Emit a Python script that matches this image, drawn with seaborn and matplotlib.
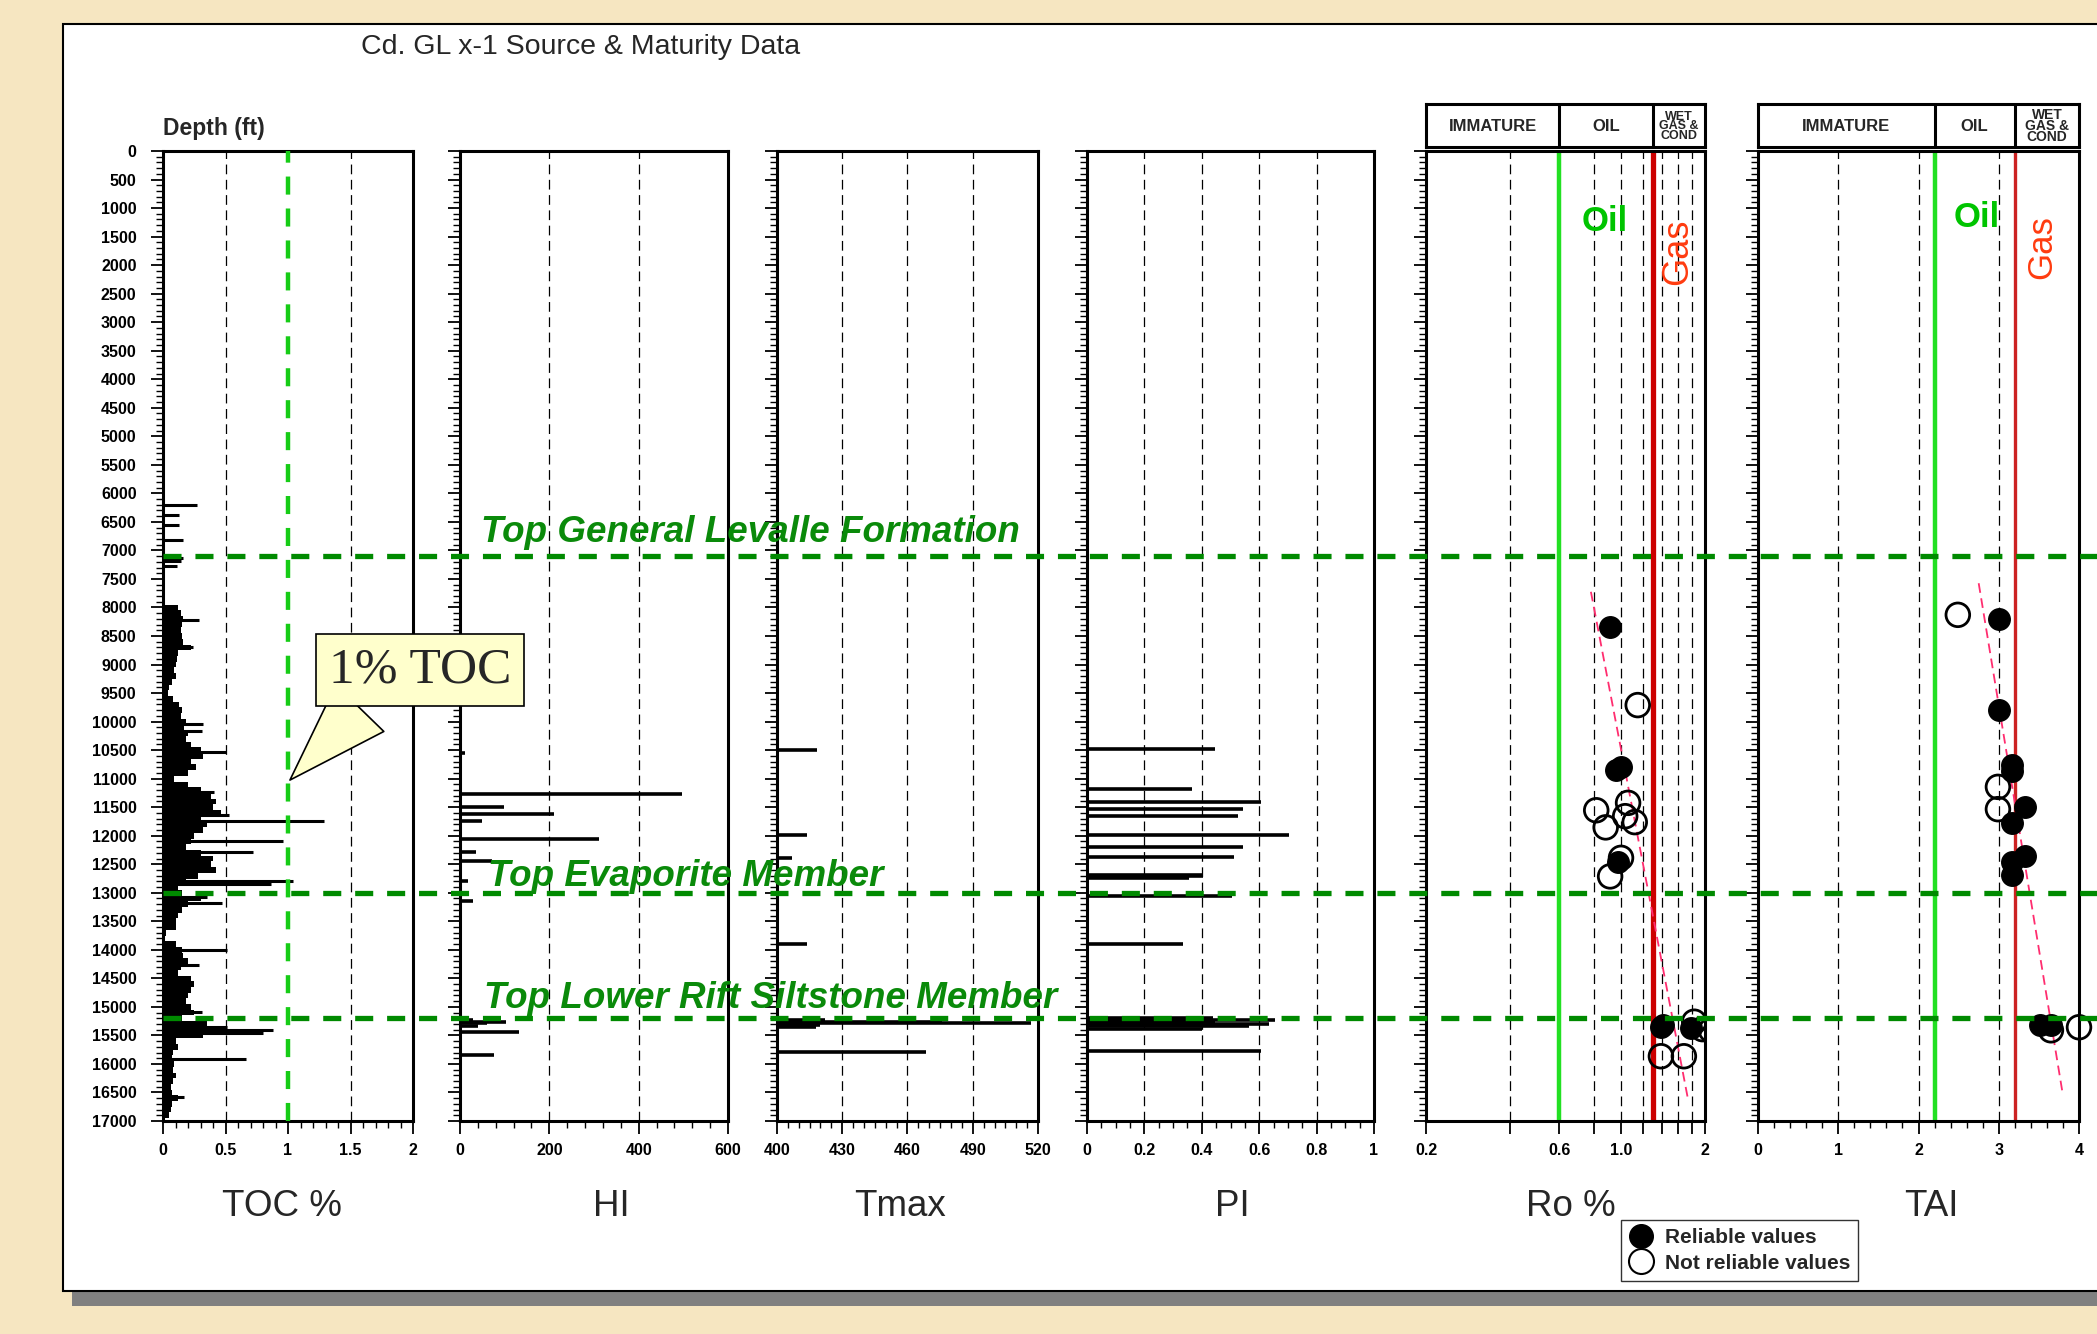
import numpy as np
import pandas as pd
import matplotlib
matplotlib.use('Agg')
import matplotlib.pyplot as plt
import matplotlib.ticker as mticker
import matplotlib.transforms as mtrans
from matplotlib.patches import Rectangle
from matplotlib.lines import Line2D
import seaborn as sns

sns.set_style('ticks')
plt.rcParams['font.family'] = ['Liberation Sans', 'DejaVu Sans']
plt.rcParams['lines.scale_dashes'] = False

W, H, DPI = 2097, 1334, 100

# ---------------- data ----------------
tops_depth = [7100, 13000, 15200]
tops_name = ['Top General Levalle Formation', 'Top Evaporite Member',
             'Top Lower Rift Siltstone Member']

depth_ticks = [0, 500, 1000, 1500, 2000, 2500, 3000, 3500, 4000, 4500, 5000,
               5500, 6000, 6500, 7000, 7500, 8000, 8500, 9000, 9500, 10000,
               10500, 11000, 11500, 12000, 12500, 13000, 13500, 14000, 14500,
               15000, 15500, 16000, 16500, 17000]

# TOC continuous log (100 ft samples) + isolated spikes
toc_log_depth = [8000, 8100, 8200, 8300, 8400, 8500, 8600, 8700, 8800, 8900,
                 9000, 9100, 9200, 9300, 9400, 9500, 9600, 9700, 9800, 9900,
                 10000, 10100, 10200, 10300, 10400, 10500, 10600, 10700, 10800, 10900,
                 11000, 11100, 11200, 11300, 11400, 11500, 11600, 11700, 11800, 11900,
                 12000, 12100, 12200, 12300, 12400, 12500, 12600, 12700, 12800, 12900,
                 13000, 13100, 13200, 13300, 13400, 13500, 13600, 13700, 13800, 13900,
                 14000, 14100, 14200, 14300, 14400, 14500, 14600, 14700, 14800, 14900,
                 15000, 15100, 15200, 15300, 15400, 15500, 15600, 15700, 15800, 15900,
                 16000, 16100, 16200, 16300, 16400, 16500, 16600, 16700, 16800, 16900]
toc_log_value = [0.12, 0.14, 0.16, 0.15, 0.14, 0.15, 0.16, 0.22, 0.12, 0.11,
                 0.10, 0.09, 0.10, 0.07, 0.05, 0.04, 0.08, 0.13, 0.15, 0.14,
                 0.18, 0.17, 0.20, 0.18, 0.22, 0.30, 0.32, 0.22, 0.26, 0.20,
                 0.09, 0.20, 0.30, 0.38, 0.42, 0.40, 0.46, 0.30, 0.35, 0.32,
                 0.25, 0.22, 0.18, 0.30, 0.40, 0.38, 0.42, 0.28, 0.18, 0.12,
                 0.15, 0.30, 0.20, 0.15, 0.12, 0.10, 0.10, 0.02, 0.01, 0.10,
                 0.15, 0.16, 0.20, 0.14, 0.12, 0.22, 0.25, 0.22, 0.20, 0.18,
                 0.22, 0.25, 0.15, 0.35, 0.50, 0.32, 0.10, 0.12, 0.08, 0.07,
                 0.09, 0.08, 0.10, 0.08, 0.06, 0.07, 0.12, 0.07, 0.06, 0.05]
toc_spike_depth = [6212, 6387, 6562, 6825, 7140, 7190, 7281, 8228, 8696, 10040,
                   10157, 10530, 11238, 11630, 11740, 12090, 12290, 12790, 12845,
                   13070, 13187, 14010, 14268, 15087, 15350, 15405, 15460, 15915, 16577]
toc_spike_value = [0.27, 0.13, 0.13, 0.16, 0.16, 0.14, 0.11, 0.29, 0.24, 0.32,
                   0.31, 0.50, 0.41, 0.53, 1.29, 0.96, 0.72, 1.04, 0.86,
                   0.35, 0.47, 0.51, 0.29, 0.31, 0.51, 0.88, 0.80, 0.66, 0.17]

hi_depth = [10559, 11265, 11495, 11622, 11748, 12064, 12282, 12443, 12800,
            13144, 15230, 15260, 15290, 15330, 15440, 15843]
hi_value = [12, 498, 98, 211, 49, 311, 36, 71, 18, 29, 30, 102, 60, 40, 133, 77]

tmax_depth = [10490, 11995, 12397, 13902, 15230, 15260, 15290, 15320, 15350, 15786]
tmax_value = [418.6, 413.7, 406.7, 413.7, 422, 476, 517, 420, 418, 468.7]

pi_depth = [10473, 11179, 11409, 11535, 11650, 11983, 12196, 12374, 12680, 12701,
            12742, 13057, 13890, 15200, 15228, 15260, 15300, 15340, 15380, 15774]
pi_value = [0.446, 0.365, 0.606, 0.544, 0.527, 0.705, 0.544, 0.513, 0.40, 0.404,
            0.355, 0.505, 0.334, 0.44, 0.656, 0.446, 0.635, 0.565, 0.40, 0.606]

ro_depth = [8337, 9711, 10851, 10799, 11424, 11554, 11658, 11762, 11854, 12388,
            12466, 12713, 15357, 15325, 15865, 15865, 15260, 15377, 15390, 15410]
ro_value = [0.914, 1.148, 0.957, 0.998, 1.06, 0.815, 1.035, 1.12, 0.881, 1.0,
            0.979, 0.914, 1.39, 1.41, 1.39, 1.68, 1.83, 1.78, 1.96, 2.1]
ro_reliable = [True, False, True, True, False, False, False, False, False, False,
               True, False, True, True, False, False, False, True, False, False]

tai_depth = [8129, 8207, 9789, 10766, 10864, 11144, 11535, 11502, 11775, 12349,
             12460, 12687, 15325, 15325, 15410, 15357]
tai_value = [2.49, 3.0, 3.0, 3.17, 3.17, 2.99, 2.99, 3.33, 3.17, 3.33,
             3.17, 3.17, 3.51, 3.65, 3.65, 4.0]
tai_reliable = [False, True, True, True, True, False, False, True, True, True,
                True, True, True, True, False, False]

ro_trend_depth = [7725, 16630]
ro_trend_value = [0.78, 1.74]
tai_trend_depth = [7575, 16465]
tai_trend_value = [2.75, 3.79]

ro_oil_start, ro_gas_start = 0.6, 1.3
tai_oil_start, tai_gas_start = 2.2, 3.2

# ---------------- figure ----------------
fig = plt.figure(figsize=(W / DPI, H / DPI), dpi=DPI)
fig.patch.set_facecolor('#F6E6C1')

# white sheet with shadow
fig.add_artist(Rectangle((72 / W, 1 - 1306 / H), 1.0, 16 / H, transform=fig.transFigure,
                         fc='#808080', ec='none', zorder=-2))
fig.add_artist(Rectangle((63 / W, 1 - 1291 / H), 1.0, (1291 - 24) / H, transform=fig.transFigure,
                         fc='white', ec='black', lw=1.5, zorder=-1))


def add_px_axes(x0, x1, y0, y1):
    return fig.add_axes([x0 / W, 1 - y1 / H, (x1 - x0) / W, (y1 - y0) / H])


def style_track(ax, xlim, xticks, xlabels, xminor=None, ylabels=False):
    ax.set_xlim(*xlim)
    ax.set_ylim(17000, 0)
    ax.set_xticks(xticks, xlabels, fontweight='bold', fontsize=11.5)
    if xminor:
        ax.xaxis.set_minor_locator(mticker.MultipleLocator(xminor))
    else:
        ax.xaxis.set_minor_locator(mticker.NullLocator())
    if ylabels:
        ax.set_yticks(depth_ticks, [str(d) for d in depth_ticks],
                      fontweight='bold', fontsize=11.5)
    else:
        ax.set_yticks(depth_ticks, [])
    ax.yaxis.set_minor_locator(mticker.MultipleLocator(100))
    ax.tick_params(which='major', direction='out', length=9, width=1.3,
                   color='black', labelcolor='black')
    ax.tick_params(which='minor', direction='out', length=5, width=1.0, color='black')
    ax.tick_params(axis='x', pad=7)
    ax.tick_params(axis='y', pad=10)
    ax.tick_params(top=False, right=False)
    for s in ax.spines.values():
        s.set_visible(True)
        s.set_linewidth(2.2)
        s.set_color('black')
    ax.set_xlabel('')
    ax.set_ylabel('')


def grid_lines(ax, xs):
    for x in xs:
        ax.axvline(x, color='black', lw=0.9, dashes=(7, 4), zorder=1)


# ---- TOC ----
ax_toc = add_px_axes(163, 413, 151, 1121)
ax_toc.barh(toc_log_depth, toc_log_value, height=100, color='black', lw=0, zorder=3)
ax_toc.hlines(toc_spike_depth, 0, toc_spike_value, color='black', lw=2.2, zorder=3)
grid_lines(ax_toc, [0.5, 1.5])
ax_toc.axvline(1.0, color='#16CC16', lw=3.2, dashes=(13, 10), zorder=4)
style_track(ax_toc, (0, 2), [0, 0.5, 1, 1.5, 2], ['0', '0.5', '1', '1.5', '2'], 0.1, ylabels=True)
ax_toc.set_zorder(2)

ax_toc.annotate('1% TOC', xy=(1.0, 11060), xycoords='data',
                xytext=(420 / W, 1 - 670 / H), textcoords='figure fraction',
                ha='center', va='center', fontsize=37, family='Liberation Serif',
                bbox=dict(boxstyle='square,pad=0.24', fc='#FFFFCC', ec='black', lw=1.2),
                arrowprops=dict(arrowstyle='wedge,tail_width=1.3,shrink_factor=0.5',
                                fc='#FFFFCC', ec='black', lw=1.2, relpos=(0.25, 0.0)),
                annotation_clip=False, zorder=12)

# ---- HI ----
ax_hi = add_px_axes(460, 728, 151, 1121)
ax_hi.hlines(hi_depth, 0, hi_value, color='black', lw=2.6, zorder=3)
grid_lines(ax_hi, [200, 400])
style_track(ax_hi, (0, 600), [0, 200, 400, 600], ['0', '200', '400', '600'], 40)

# ---- Tmax ----
ax_tmax = add_px_axes(777, 1038, 151, 1121)
ax_tmax.hlines(tmax_depth, 400, tmax_value, color='black', lw=2.6, zorder=3)
grid_lines(ax_tmax, [430, 460, 490])
style_track(ax_tmax, (400, 520), [400, 430, 460, 490, 520],
            ['400', '430', '460', '490', '520'], 5)

# ---- PI ----
ax_pi = add_px_axes(1087, 1374, 151, 1121)
ax_pi.hlines(pi_depth, 0, pi_value, color='black', lw=2.6, zorder=3)
grid_lines(ax_pi, [0.2, 0.4, 0.6, 0.8])
style_track(ax_pi, (0, 1), [0, 0.2, 0.4, 0.6, 0.8, 1],
            ['0', '0.2', '0.4', '0.6', '0.8', '1'], 0.05)

# ---- Ro ----
ro_df = pd.DataFrame({'depth': ro_depth, 'ro': ro_value, 'reliable': ro_reliable})
ax_ro = add_px_axes(1426, 1705, 151, 1121)
ax_ro.set_xscale('log')
grid_lines(ax_ro, [0.4, 0.8, 1.0, 1.2, 1.4, 1.6, 1.8])
ax_ro.axvline(ro_oil_start, color='#22E022', lw=3.2, zorder=2)
ax_ro.axvline(ro_gas_start, color='#CC0000', lw=3.8, zorder=2)
ax_ro.plot(ro_trend_value, ro_trend_depth, color='#FF2D6F', lw=1.3, dashes=(7, 4), zorder=4)
sns.scatterplot(data=ro_df[~ro_df['reliable']], x='ro', y='depth', s=290, marker='o',
                ax=ax_ro, legend=False, zorder=5)
ax_ro.collections[-1].set_facecolor('none')
ax_ro.collections[-1].set_edgecolor('black')
ax_ro.collections[-1].set_linewidth(2.0)
sns.scatterplot(data=ro_df[ro_df['reliable']], x='ro', y='depth', s=240, marker='o',
                color='black', edgecolor='black', linewidth=1, ax=ax_ro, legend=False, zorder=6)
style_track(ax_ro, (0.2, 2), [0.2, 0.4, 0.6, 0.8, 1.0, 1.2, 1.4, 1.6, 1.8, 2.0],
            ['0.2', '', '0.6', '', '1.0', '', '', '', '', '2'])
ax_ro.text(0.876, 1244, 'Oil', color='#00C400', fontsize=25, fontweight='bold',
           ha='center', va='center', zorder=6)
ax_ro.text(1.6, 1770, 'Gas', color='#FF3B0F', fontsize=26, rotation=90,
           ha='center', va='center', zorder=6)

# ---- TAI ----
tai_df = pd.DataFrame({'depth': tai_depth, 'tai': tai_value, 'reliable': tai_reliable})
ax_tai = add_px_axes(1758, 2079, 151, 1121)
grid_lines(ax_tai, [1, 2, 3])
ax_tai.axvline(tai_oil_start, color='#22E022', lw=3.2, zorder=2)
ax_tai.axvline(tai_gas_start, color='#CC2222', lw=2.4, zorder=2)
ax_tai.plot(tai_trend_value, tai_trend_depth, color='#FF2D6F', lw=1.3, dashes=(7, 4), zorder=4)
sns.scatterplot(data=tai_df[~tai_df['reliable']], x='tai', y='depth', s=290, marker='o',
                ax=ax_tai, legend=False, zorder=5, clip_on=False)
ax_tai.collections[-1].set_facecolor('none')
ax_tai.collections[-1].set_edgecolor('black')
ax_tai.collections[-1].set_linewidth(2.0)
sns.scatterplot(data=tai_df[tai_df['reliable']], x='tai', y='depth', s=240, marker='o',
                color='black', edgecolor='black', linewidth=1, ax=ax_tai, legend=False, zorder=6)
style_track(ax_tai, (0, 4), [0, 1, 2, 3, 4], ['0', '1', '2', '3', '4'], 0.2)
ax_tai.text(2.73, 1174, 'Oil', color='#00C400', fontsize=25, fontweight='bold',
            ha='center', va='center', zorder=6)
ax_tai.text(3.54, 1682, 'Gas', color='#FF3B0F', fontsize=25, rotation=90,
            ha='center', va='center', zorder=6)

# ---- maturity header boxes ----
def header(x0, x1, xlim, bounds, log=False, small_size=9):
    hax = add_px_axes(x0, x1, 104, 147)
    if log:
        hax.set_xscale('log')
    hax.set_xlim(*xlim)
    hax.set_ylim(0, 1)
    hax.set_xticks([])
    hax.set_yticks([])
    hax.xaxis.set_minor_locator(mticker.NullLocator())
    for s in hax.spines.values():
        s.set_linewidth(2.2)
        s.set_color('black')
    for b in bounds[1:-1]:
        hax.axvline(b, color='black', lw=2.2)
    names = ['IMMATURE', 'OIL', 'WET\nGAS &\nCOND']
    for i, name in enumerate(names):
        a, b = bounds[i], bounds[i + 1]
        xc = np.sqrt(a * b) if log else (a + b) / 2
        small = i == 2
        hax.text(xc, 0.48, name, ha='center', va='center', fontweight='bold',
                 fontsize=small_size if small else 12, linespacing=0.72)
    return hax


header(1426, 1705, (0.2, 2), [0.2, ro_oil_start, ro_gas_start, 2], log=True, small_size=9)
header(1758, 2079, (0, 4), [0, tai_oil_start, tai_gas_start, 4], small_size=10)

# ---- formation tops across all tracks ----
blend = mtrans.blended_transform_factory(fig.transFigure, ax_toc.transData)
for d in tops_depth:
    fig.add_artist(Line2D([163 / W, 1.0], [d, d], transform=blend, color='#008A00',
                          lw=3.8, dashes=(13, 10), zorder=10))
top_label_px = [(481, 532), (488, 876), (484, 998)]
for name, (x, y) in zip(tops_name, top_label_px):
    fig.text(x / W, 1 - y / H, name, color='#0A8A0A', fontsize=26.5, fontweight='bold',
             style='italic', ha='left', va='center', zorder=11)

# ---- texts ----
fig.text(361 / W, 1 - 47 / H, 'Cd. GL x-1 Source & Maturity Data', fontsize=20.5,
         ha='left', va='center')
fig.text(163 / W, 1 - 128 / H, 'Depth (ft)', fontsize=16.5, fontweight='bold',
         ha='left', va='center')
track_titles = [('TOC %', 282), ('HI', 611), ('Tmax', 900), ('PI', 1232),
                ('Ro %', 1571), ('TAI', 1931)]
for name, x in track_titles:
    fig.text(x / W, 1 - 1206 / H, name, fontsize=26.5, ha='center', va='center')

# ---- legend ----
handles = [Line2D([], [], marker='o', ls='', mfc='black', mec='black', ms=17),
           Line2D([], [], marker='o', ls='', mfc='none', mec='black', ms=18, mew=1.5)]
leg = fig.legend(handles, ['Reliable values', 'Not reliable values'], loc='upper left',
                 bbox_to_anchor=(1621 / W, 1 - 1220 / H), frameon=True, fancybox=False,
                 edgecolor='black', prop={'weight': 'bold', 'size': 15},
                 handletextpad=0.6, borderpad=0.4, labelspacing=0.3,
                 handlelength=1.1, borderaxespad=0)
leg.get_frame().set_linewidth(1.0)

fig.savefig('out.png', dpi=DPI, facecolor=fig.get_facecolor())
